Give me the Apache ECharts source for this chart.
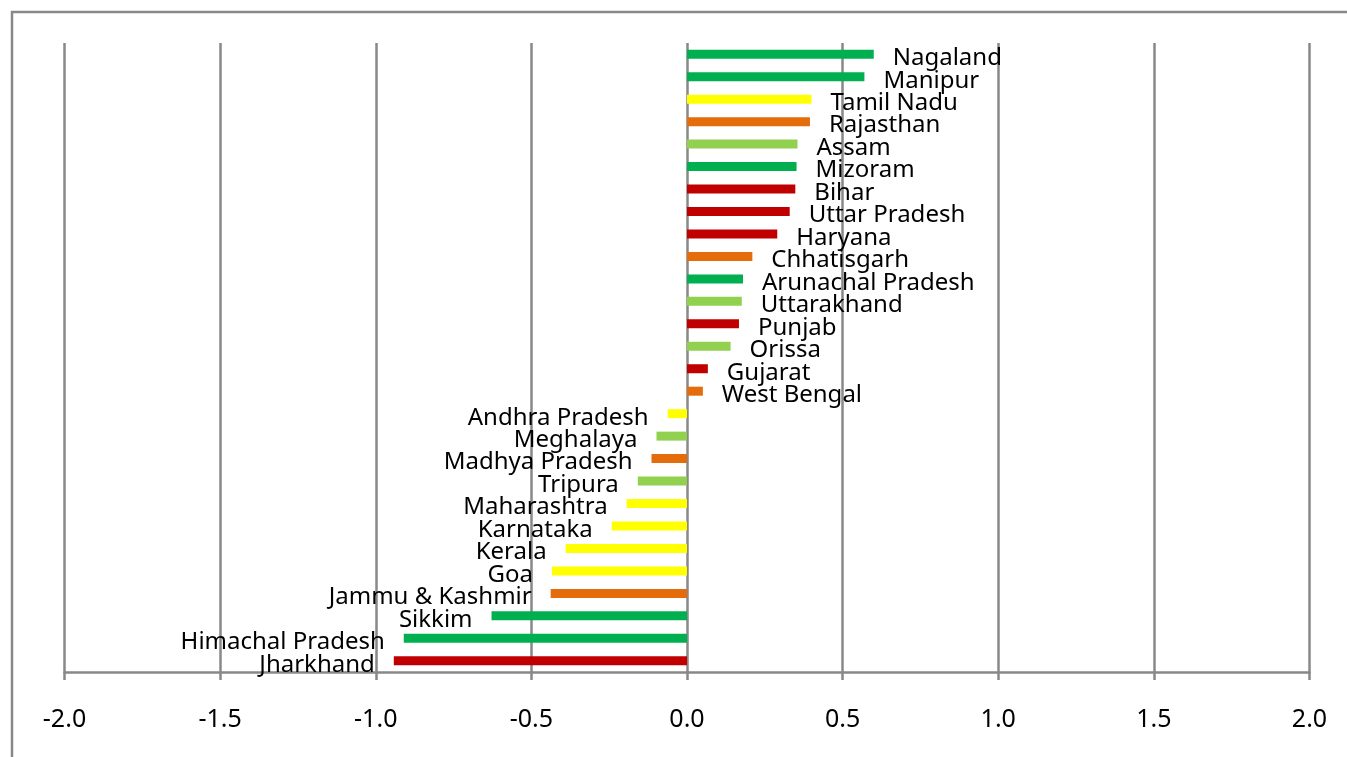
<!DOCTYPE html>
<html>
<head>
<meta charset="utf-8">
<script src="https://cdn.jsdelivr.net/npm/echarts@6/dist/echarts.min.js"></script>
<style>
  html, body { margin: 0; padding: 0; background: #fff; }
  #chart { width: 1347px; height: 757px; }
</style>
</head>
<body>
<div id="chart"></div>
<script>
// States, top to bottom
const states = [
  'Nagaland', 'Manipur', 'Tamil Nadu', 'Rajasthan', 'Assam', 'Mizoram', 'Bihar',
  'Uttar Pradesh', 'Haryana', 'Chhatisgarh', 'Arunachal Pradesh', 'Uttarakhand',
  'Punjab', 'Orissa', 'Gujarat', 'West Bengal', 'Andhra Pradesh', 'Meghalaya',
  'Madhya Pradesh', 'Tripura', 'Maharashtra', 'Karnataka', 'Kerala', 'Goa',
  'Jammu & Kashmir', 'Sikkim', 'Himachal Pradesh', 'Jharkhand'
];

const values = [
  0.60, 0.57, 0.40, 0.395, 0.355, 0.352, 0.348,
  0.33, 0.29, 0.21, 0.18, 0.176,
  0.167, 0.14, 0.067, 0.051, -0.062, -0.098,
  -0.114, -0.158, -0.194, -0.242, -0.39, -0.434,
  -0.438, -0.628, -0.91, -0.942
];

// Colour group of each state
const groups = [
  'dg', 'dg', 'y', 'o', 'lg', 'dg', 'r',
  'r', 'r', 'o', 'dg', 'lg',
  'r', 'lg', 'r', 'o', 'y', 'lg',
  'o', 'lg', 'y', 'y', 'y', 'y',
  'o', 'dg', 'dg', 'r'
];

const tickValues = [-2.0, -1.5, -1.0, -0.5, 0.0, 0.5, 1.0, 1.5, 2.0];

const palette = { dg: '#00B050', lg: '#92D050', y: '#FFFF00', o: '#E46C0A', r: '#C00000' };
const GRID = '#888888';
const FONT = '"Noto Sans", "Open Sans", sans-serif';

const chart = echarts.init(document.getElementById('chart'), null, { renderer: 'canvas' });

chart.setOption({
  animation: false,
  backgroundColor: '#ffffff',
  graphic: [{
    type: 'rect',
    shape: { x: 12, y: 12, width: 1400, height: 800 },
    style: { fill: 'none', stroke: GRID, lineWidth: 2.5 },
    silent: true,
    z: -1
  }],
  grid: { left: 64.5, right: 37.5, top: 43, bottom: 85, containLabel: false },
  xAxis: {
    type: 'value',
    position: 'bottom',
    min: tickValues[0],
    max: tickValues[tickValues.length - 1],
    interval: 0.5,
    axisLine: { show: true, onZero: false, lineStyle: { color: GRID, width: 2.5 } },
    axisTick: { show: true, length: 8, lineStyle: { color: GRID, width: 2.5 } },
    splitLine: { show: true, lineStyle: { color: GRID, width: 2.5 } },
    axisLabel: {
      color: '#000',
      fontFamily: FONT,
      fontSize: 25,
      margin: 35,
      formatter: v => v.toFixed(1)
    }
  },
  yAxis: {
    type: 'category',
    inverse: true,
    data: states,
    axisLine: { show: false },
    axisTick: { show: false },
    axisLabel: { show: false },
    splitLine: { show: false }
  },
  series: [{
    type: 'bar',
    barWidth: 9,
    data: values.map((v, i) => ({
      value: v,
      itemStyle: { color: palette[groups[i]] },
      label: {
        show: true,
        position: v >= 0 ? 'right' : 'left',
        distance: 19,
        offset: [0, 4],
        formatter: states[i],
        color: '#000',
        fontFamily: FONT,
        fontSize: 24
      }
    }))
  }]
});
</script>
</body>
</html>
